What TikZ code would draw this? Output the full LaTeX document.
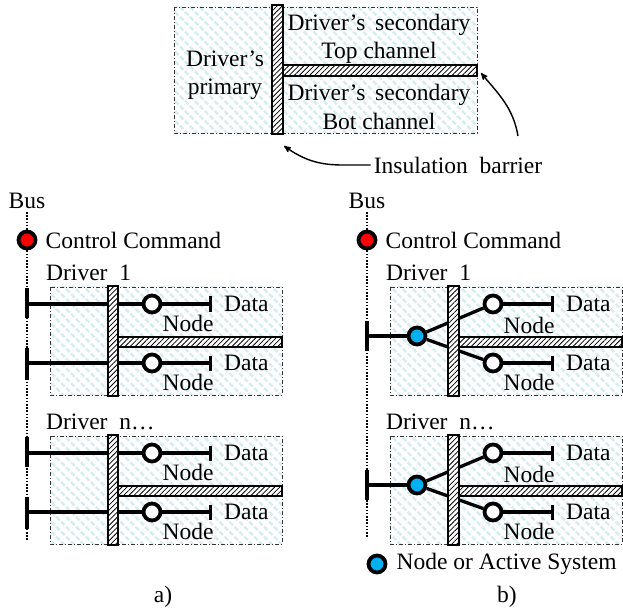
\documentclass[tikz,border=0pt]{standalone}
\usepackage{fontspec}
\setmainfont{Liberation Serif}
\usepackage{tikz}
\usetikzlibrary{
  positioning,
  arrows,
  arrows.meta,
  patterns.meta
}
\definecolor{hatchcyan}{RGB}{214,236,239}
\definecolor{cmdred}{RGB}{255,0,0}
\definecolor{actblue}{RGB}{0,176,240}
\tikzset{
  x=1pt, y=1pt,
  >=stealth',
  every node/.style={font=\fontsize{23.5}{28.5}\selectfont, inner sep=3pt},
  drvbox/.style={draw=black!80, line width=0.8pt,
    dash pattern=on 4pt off 2pt on 1pt off 2pt,
    pattern={Lines[angle=-45, distance=7pt, line width=2.4pt]}, pattern color=hatchcyan},
  barrier/.style={draw, line width=2pt, preaction={fill=white},
    pattern={Lines[angle=45, distance=3.6pt, line width=0.8pt]}},
  wire/.style={line width=3.3pt},
  dataend/.style={wire, -{Bar[width=15pt]}},
  stub/.style={line width=4pt},
  busline/.style={line width=2.6pt, dash pattern=on 1.6pt off 1.6pt},
  wnode/.style={circle, draw, line width=3.8pt, fill=white, minimum size=17pt, inner sep=0pt},
  cmdnode/.style={wnode, fill=cmdred},
  actnode/.style={wnode, fill=actblue},
  pointer/.style={->, line width=1.4pt}
}

\begin{document}
\begin{tikzpicture}
  \useasboundingbox (0,0) rectangle (623,-609);

  % insulation sketch
  \draw[drvbox] (174,-7) rectangle (477,-133);
  \draw[barrier] (283,-65) rectangle (477,-76);
  \draw[barrier] (272,-5) rectangle (283,-134);
  \node[align=center] (prim) at (225,-75) {Driver's\\primary};
  \node[align=center] (sectop) at (379,-39) {Driver's\,\ secondary\\Top channel};
  \node[align=center] (secbot) at (379,-107) {Driver's\,\ secondary\\Bot channel};
  \node (ins) at (458,-165) {Insulation\ \ barrier};
  \coordinate (tipL) at (284,-146);
  \coordinate (tipR) at (481,-73);
  \coordinate (tailR) at (518,-136);
  \draw[pointer] (ins.west) -- ++(-28,0) to[out=180, in=-35] (tipL);
  \draw[pointer] (tailR) to[out=100, in=-50] (tipR);

  % a)
  \node (busA) at (27,-201) {Bus};
  \coordinate (busAend) at (27,-540);
  \draw[busline] (busA.south) -- (busAend);
  \node[cmdnode] (cmdA) at (27,-240) {};
  \node[right=5pt of cmdA] (cmdAtxt) {Control Command};
  \foreach \d/\i/\t in {0/1/{Driver\ \ 1}, 149/n/{Driver\ \ n\ldots}} {
    \node[anchor=west] (a\i-lbl) at (43,-273-\d) {\t};
    \draw[drvbox] (50,-287-\d) rectangle (282,-395-\d);
    \coordinate (a\i-s1) at (27,-304-\d);
    \coordinate (a\i-s2) at (27,-363-\d);
    \node[wnode] (a\i-n1) at (152,-304-\d) {};
    \node[wnode] (a\i-n2) at (152,-363-\d) {};
    \coordinate (a\i-e1) at (212,-304-\d);
    \coordinate (a\i-e2) at (212,-363-\d);
    \draw[stub] ([yshift=16pt]a\i-s1) -- ([yshift=-14pt]a\i-s1);
    \draw[stub] ([yshift=15pt]a\i-s2) -- ([yshift=-17pt]a\i-s2);
    \draw[wire] (a\i-s1) -- (a\i-n1);
    \draw[wire] (a\i-s2) -- (a\i-n2);
    \draw[dataend] (a\i-n1) -- (a\i-e1);
    \draw[dataend] (a\i-n2) -- (a\i-e2);
    \draw[barrier] (118,-337-\d) rectangle (282,-347-\d);
    \draw[barrier] (108,-286-\d) rectangle (118,-396-\d);
    \node[right=9pt of a\i-e1] (a\i-d1) {Data};
    \node[right=9pt of a\i-e2] (a\i-d2) {Data};
    \node (a\i-l1) at (188,-323-\d) {Node};
    \node (a\i-l2) at (188,-382-\d) {Node};
  }
  \node (capA) at (163,-597) {a)};

  % b)
  \node (busB) at (367,-201) {Bus};
  \coordinate (busBend) at (367,-538);
  \draw[busline] (busB.south) -- (busBend);
  \node[cmdnode] (cmdB) at (367,-240) {};
  \node[right=5pt of cmdB] (cmdBtxt) {Control Command};
  \foreach \d/\i/\t in {0/1/{Driver\ \ 1}, 149/n/{Driver\ \ n\ldots}} {
    \node[anchor=west] (b\i-lbl) at (383,-273-\d) {\t};
    \draw[drvbox] (390,-287-\d) rectangle (622,-395-\d);
    \coordinate (b\i-s) at (367,-336-\d);
    \node[actnode] (b\i-act) at (417,-336-\d) {};
    \node[wnode] (b\i-n1) at (493,-304-\d) {};
    \node[wnode] (b\i-n2) at (493,-363-\d) {};
    \coordinate (b\i-e1) at (554,-304-\d);
    \coordinate (b\i-e2) at (554,-363-\d);
    \draw[stub] ([yshift=15pt]b\i-s) -- ([yshift=-15pt]b\i-s);
    \draw[wire] (b\i-s) -- (b\i-act);
    \draw[wire] (b\i-act) -- (b\i-n1);
    \draw[wire] (b\i-act) -- (b\i-n2);
    \draw[dataend] (b\i-n1) -- (b\i-e1);
    \draw[dataend] (b\i-n2) -- (b\i-e2);
    \draw[barrier] (459,-337-\d) rectangle (622,-347-\d);
    \draw[barrier] (448,-286-\d) rectangle (459,-396-\d);
    \node[right=9pt of b\i-e1] (b\i-d1) {Data};
    \node[right=9pt of b\i-e2] (b\i-d2) {Data};
    \node (b\i-l1) at (529,-325-\d) {Node};
    \node (b\i-l2) at (529,-382-\d) {Node};
  }
  \node[actnode] (leg) at (377,-564) {};
  \node[right=6pt of leg] (legtxt) {Node or Active System};
  \node (capB) at (507,-597) {b)};
\end{tikzpicture}
\end{document}
